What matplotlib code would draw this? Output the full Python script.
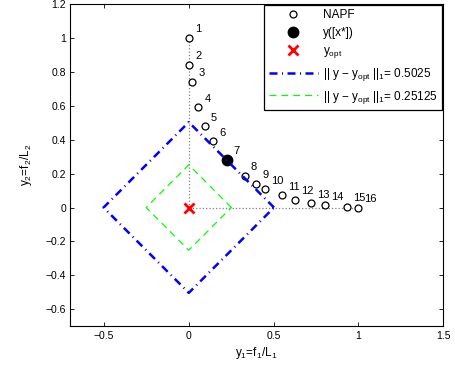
import numpy as np
import matplotlib
matplotlib.use('Agg')
import matplotlib.pyplot as plt

plt.rcParams['font.family'] = ['Liberation Sans', 'DejaVu Sans']
plt.rcParams['mathtext.fontset'] = 'custom'
plt.rcParams['mathtext.rm'] = 'Liberation Sans'
plt.rcParams['mathtext.it'] = 'Liberation Sans:italic'
plt.rcParams['font.size'] = 7.5

# NAPF points (normalized objectives)
napf_y1 = [0.0, 0.002, 0.02, 0.057, 0.094, 0.141, 0.224, 0.329, 0.396, 0.451,
           0.551, 0.626, 0.722, 0.802, 0.934, 0.998]
napf_y2 = [1.0, 0.84, 0.74, 0.59, 0.478, 0.39, 0.28, 0.186, 0.141, 0.108,
           0.072, 0.047, 0.025, 0.012, 0.004, 0.0]
labels = [str(i) for i in range(1, 17)]

best = (0.224, 0.28)   # y([x*])
y_opt = (0.0, 0.0)
norm_big = 0.5025
norm_small = 0.25125

fig = plt.figure(figsize=(4.55, 3.68), dpi=100)
ax = fig.add_axes([0.154, 0.113, 0.82, 0.877])

# dotted guides along the axes of the utopia point
ax.plot([0, 0], [0, 1], ':', color='gray', lw=0.9)
ax.plot([0, 1], [0, 0], ':', color='gray', lw=0.9)


def diamond(r):
    xs = [r, 0, -r, 0, r]
    ys = [0, r, 0, -r, 0]
    return xs, ys


ax.plot(napf_y1, napf_y2, 'o', mfc='white', mec='black', ms=5, mew=0.9, label='NAPF')
ax.plot(*best, 'o', color='black', ms=7.5, label='y([x*])')
ax.plot(*y_opt, 'x', color='red', ms=6.5, mew=2, label='y$_{\\mathrm{opt}}$')
bx, by = diamond(norm_big)
ax.plot(bx, by, color='blue', lw=1.8, dashes=[3.2, 1.8, 0.4, 1.8],
        label='|| y \u2212 y$_{\\mathrm{opt}}$ ||$_1$= ' + str(norm_big))
gx, gy = diamond(norm_small)
ax.plot(gx, gy, color='#00ff00', lw=0.9, dashes=[5.5, 4],
        label='|| y \u2212 y$_{\\mathrm{opt}}$ ||$_1$= ' + str(norm_small))

for x, y, t in zip(napf_y1, napf_y2, labels):
    ax.annotate(t, xy=(x, y), xytext=(4.5, 2.5), textcoords='offset points',
                ha='left', va='bottom', fontsize=8)

ax.set_xlim(-0.7, 1.5)
ax.set_ylim(-0.7, 1.2)
ax.set_xticks([-0.5, 0, 0.5, 1, 1.5])
ax.set_xticklabels(['\u22120.5', '0', '0.5', '1', '1.5'])
yt = [-0.6, -0.4, -0.2, 0, 0.2, 0.4, 0.6, 0.8, 1, 1.2]
ax.set_yticks(yt)
ax.set_yticklabels([('%g' % v).replace('-', '\u2212') for v in yt])
ax.tick_params(direction='in', top=True, right=True, length=3, width=0.6, pad=3)
for s in ax.spines.values():
    s.set_linewidth(0.8)

ax.set_xlabel('y$_1$=f$_1$/L$_1$', labelpad=3, fontsize=8.5)
ax.set_ylabel('y$_2$=f$_2$/L$_2$', labelpad=8, fontsize=8.5)

leg = ax.legend(loc='upper right', fancybox=False, edgecolor='black', framealpha=1,
                fontsize=8.5, handlelength=4.2, borderpad=0.35, labelspacing=0.5,
                handletextpad=0.4, borderaxespad=0.1, numpoints=1)
leg.get_frame().set_linewidth(0.9)

fig.savefig('out.png', dpi=100)
